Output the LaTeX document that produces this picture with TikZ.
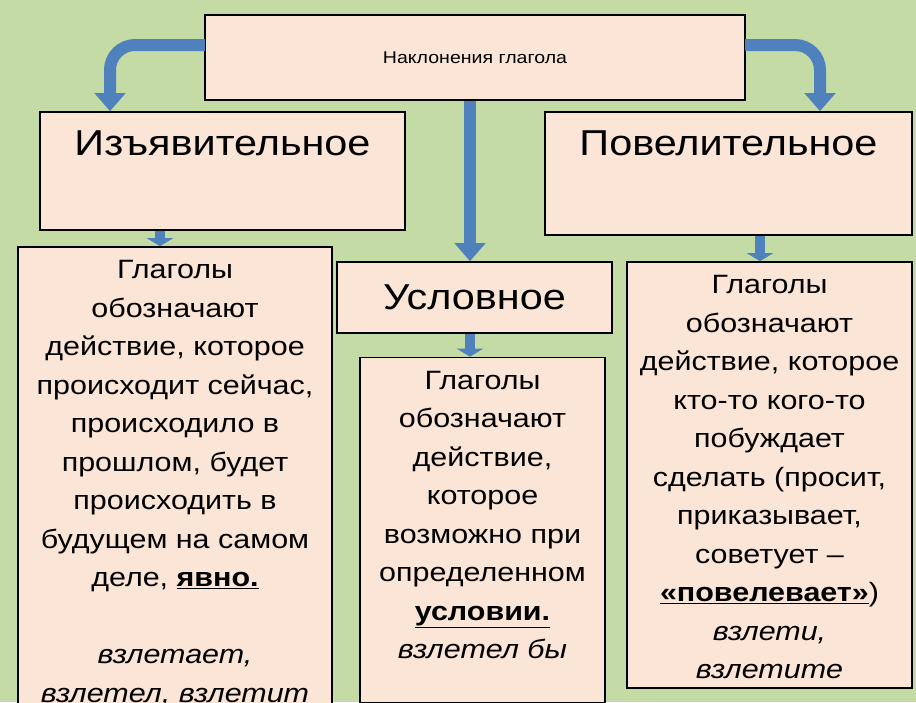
\documentclass[tikz,border=0pt]{standalone}
\usepackage{fontspec}
\setmainfont[FakeStretch=1.15]{Liberation Sans}
\usetikzlibrary{arrows.meta,positioning}
\definecolor{bggreen}{HTML}{C4DBA6}
\definecolor{peach}{HTML}{FBE5D6}
\definecolor{arrowblue}{HTML}{4F81BD}
\tikzset{
  box/.style={draw=black,line width=1.6pt,fill=peach,inner sep=0pt},
  head/.style={font={\fontsize{36pt}{40pt}\selectfont}},
  body/.style={font={\fontsize{26.5pt}{38.5pt}\selectfont},align=center,inner sep=0pt},
  blockarrow/.style={draw=arrowblue,line width=12pt,-{Triangle[width=30pt,length=18pt]}},
  smallarrow/.style={draw=arrowblue,line width=10pt,-{Triangle[width=26pt,length=8pt]}}
}
\begin{document}
\begin{tikzpicture}[x=1pt,y=-1pt]
\useasboundingbox[fill=bggreen] (0,0) rectangle (916,702);
% boxes
\node[box,minimum width=540pt,minimum height=85pt,font=\fontsize{17pt}{20pt}\selectfont] (top) at (475,57.5) {Наклонения глагола};
\node[box,minimum width=365pt,minimum height=118pt] (izj) at (222.5,171) {};
\node[head,anchor=north] at ([yshift=-16pt]izj.north) {Изъявительное};
\node[box,minimum width=367pt,minimum height=123pt] (pov) at (728.5,173.5) {};
\node[head,anchor=north] at ([yshift=-16pt]pov.north) {Повелительное};
\node[box,minimum width=275pt,minimum height=71pt,head] (usl) at (474.5,297.5) {Условное};
\node[box,minimum width=314pt,minimum height=480pt] (izjtext) at (175,487) {};
\node[body,anchor=north,yshift=-14pt] at (izjtext.north) {Глаголы\\обозначают\\действие, которое\\происходит сейчас,\\происходило в\\прошлом, будет\\происходить в\\будущем на самом\\деле, \textbf{\underline{явно.}}\\[38.5pt]\textit{взлетает,}\\\textit{взлетел, взлетит}};
\node[box,minimum width=245pt,minimum height=345pt] (usltext) at (482.5,530) {};
\node[body,anchor=north,yshift=-14pt] at (usltext.north) {Глаголы\\обозначают\\действие,\\которое\\возможно при\\определенном\\\textbf{\underline{условии.}}\\\textit{взлетел бы}};
\node[box,minimum width=285pt,minimum height=426pt] (povtext) at (769.5,475) {};
\node[body,anchor=north,yshift=-14pt] at (povtext.north) {Глаголы\\обозначают\\действие, которое\\кто-то кого-то\\побуждает\\сделать (просит,\\приказывает,\\советует –\\\textbf{\underline{«повелевает»}})\\\textit{взлети,}\\\textit{взлетите}};
% arrows
\coordinate (tl) at (205,45);
\coordinate (tr) at (745,45);
\draw[blockarrow,rounded corners=25pt] (tl) -- (110,45) -- (izj.north -| 110,0);
\draw[blockarrow,rounded corners=25pt] (tr) -- (820,45) -- (pov.north -| 820,0);
\draw[blockarrow] (top.south -| 470,0) -- (usl.north -| 470,0);
\draw[smallarrow] (izj.south -| 160,0) -- (izjtext.north -| 160,0);
\draw[smallarrow] (pov.south -| 760,0) -- (povtext.north -| 760,0);
\draw[smallarrow] (usl.south -| 470,0) -- (usltext.north -| 470,0);
\end{tikzpicture}
\end{document}
